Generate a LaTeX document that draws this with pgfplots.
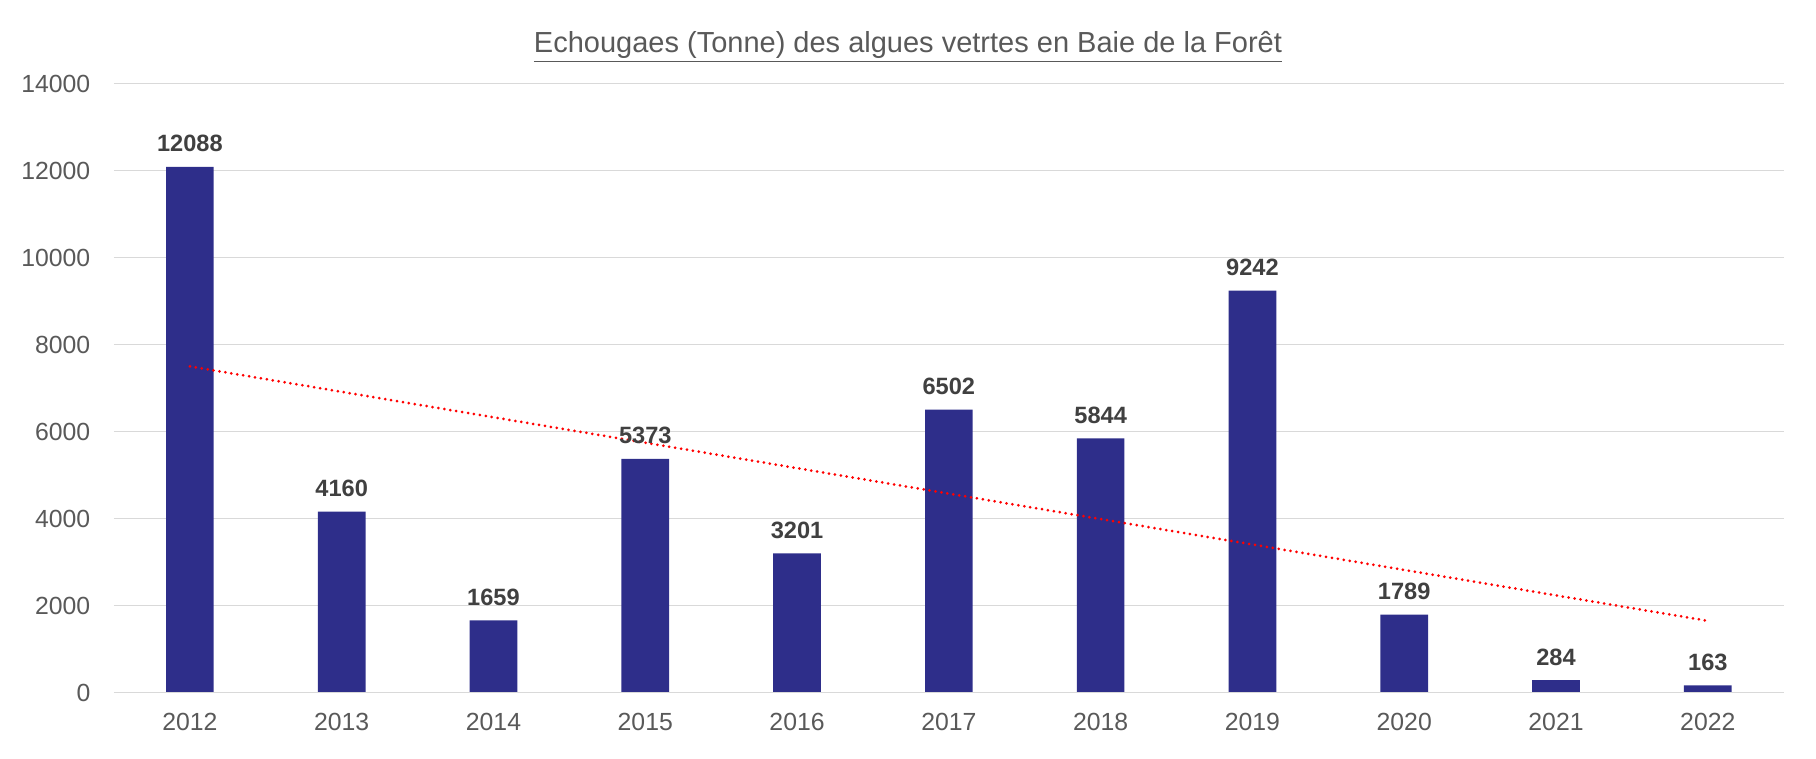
\documentclass[border=0pt]{standalone}
\usepackage{pgfplots}
\pgfplotsset{compat=1.18}
\usepackage{fontspec}
\setmainfont{Liberation Sans}
\definecolor{barc}{RGB}{46,46,138}
\definecolor{tickc}{RGB}{89,89,89}
\definecolor{labc}{RGB}{64,64,64}
\definecolor{gridc}{RGB}{217,217,217}
\begin{document}
\begin{tikzpicture}
\path[use as bounding box] (-57pt,-33.25pt) rectangle (851pt,346.25pt);
\begin{axis}[
  at={(0,0)}, anchor=south west,
  scale only axis,
  width=834.85pt, height=304.4pt,
  xmin=-0.5, xmax=10.5,
  ymin=0, ymax=14000,
  xtick={0,1,2,3,4,5,6,7,8,9,10},
  xticklabels={2012,2013,2014,2015,2016,2017,2018,2019,2020,2021,2022},
  ytick={0,2000,4000,6000,8000,10000,12000,14000},
  major tick length=0pt,
  axis line style={draw=none},
  ymajorgrids,
  grid style={gridc, line width=0.75pt},
  yticklabel style={font=\fontsize{12.4}{14}\selectfont, text=tickc, anchor=east, inner sep=0pt, xshift=-11.65pt},
  xticklabel style={font=\fontsize{12.4}{14}\selectfont, text=tickc, anchor=base, inner sep=0pt, yshift=-19.25pt},
  /pgf/number format/assume math mode=true,
  scaled y ticks=false,
  yticklabel={\pgfmathprintnumber[1000 sep={}]{\tick}},
  clip=false,
]
\addplot[ybar, bar width=23.85pt, fill=barc, draw=none,
  nodes near coords,
  nodes near coords style={font=\fontsize{11.8}{13}\selectfont\bfseries, text=labc, anchor=base, inner sep=0pt, yshift=7.5pt, /pgf/number format/1000 sep={}},
] coordinates {
(0,12088) (1,4160) (2,1659) (3,5373) (4,3201) (5,6502) (6,5844) (7,9242) (8,1789) (9,284) (10,163)
};
\addplot[red, line width=1.5pt, line cap=round, dash pattern=on 0pt off 3pt, mark=none] coordinates {(0,7499) (10,1648)};
\draw[gridc, line width=0.9pt] (axis cs:-0.5,0) -- (axis cs:10.5,0);
\node[anchor=base, text=tickc, font=\fontsize{14.5}{16}\selectfont, inner sep=0pt] at ([xshift=397pt, yshift=15.8pt]rel axis cs:0,1) {\underline{Echougaes (Tonne) des algues vetrtes en Baie de la Forêt}};
\end{axis}
\end{tikzpicture}
\end{document}
